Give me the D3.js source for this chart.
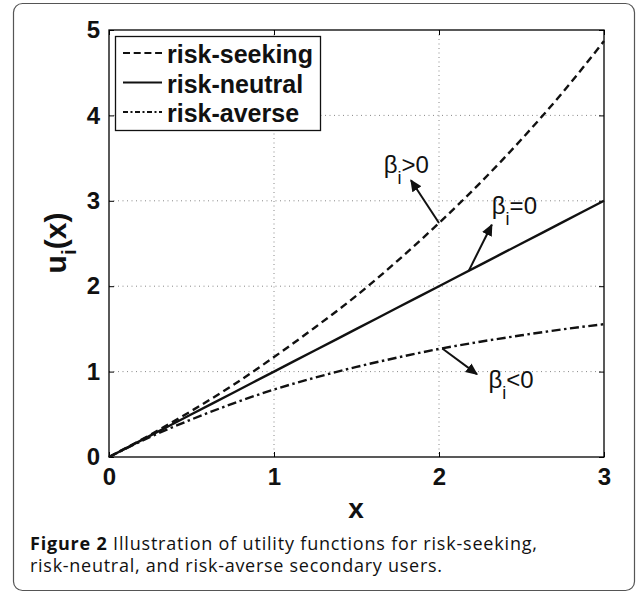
<!DOCTYPE html>
<html>
<head>
<meta charset="utf-8">
<script src="https://cdn.jsdelivr.net/npm/d3@7"></script>
<style>
  html, body { margin: 0; padding: 0; background: #fff; }
  svg { display: block; }
</style>
</head>
<body>
<svg id="fig" width="637" height="595"></svg>
<script>
// Utility curves u_i(x) sampled on x = 0 .. 3
const xValues = [0, 0.25, 0.5, 0.75, 1, 1.25, 1.5, 1.75, 2, 2.25, 2.5, 2.75, 3];
const riskSeeking = [0, 0.26, 0.54, 0.84, 1.17, 1.52, 1.89, 2.30, 2.74, 3.21, 3.72, 4.27, 4.87];
const riskNeutral = [0, 0.25, 0.5, 0.75, 1, 1.25, 1.5, 1.75, 2, 2.25, 2.5, 2.75, 3];
const riskAverse  = [0, 0.235, 0.44, 0.625, 0.79, 0.93, 1.055, 1.165, 1.265, 1.35, 1.425, 1.495, 1.555];

const seriesNames = ["risk-seeking", "risk-neutral", "risk-averse"];
const xTicks = [0, 1, 2, 3];
const yTicks = [0, 1, 2, 3, 4, 5];

// Callouts: arrow from a point on a curve to a label (data units)
const calloutLabels = ["β", "β", "β"];
const calloutRel = [">0", "=0", "<0"];
const calloutFrom = [[2.0, 2.74], [2.18, 2.18], [2.02, 1.27]];
const calloutTo = [[1.83, 3.24], [2.32, 2.72], [2.23, 0.97]];
const calloutText = [[1.665, 3.33], [2.32, 2.84], [2.30, 0.81]];

const svg = d3.select("#fig");

// Figure frame
svg.append("rect")
  .attr("x", 13.5).attr("y", 3.5)
  .attr("width", 621).attr("height", 587)
  .attr("rx", 9).attr("ry", 9)
  .attr("fill", "#fff").attr("stroke", "#555").attr("stroke-width", 1.2);

const L = 109, R = 604, T = 30, B = 457;
const x = d3.scaleLinear().domain([0, 3]).range([L, R]);
const y = d3.scaleLinear().domain([0, 5]).range([B, T]);

const tickFont = "'Liberation Sans', Arial, sans-serif";

// Grid
const grid = svg.append("g").attr("stroke", "#888").attr("stroke-width", 1)
  .attr("stroke-dasharray", "1,3.5");
grid.selectAll("line.gx").data(xTicks.slice(1, -1)).join("line")
  .attr("x1", d => x(d)).attr("x2", d => x(d)).attr("y1", T).attr("y2", B);
grid.selectAll("line.gy").data(yTicks.slice(1, -1)).join("line")
  .attr("y1", d => y(d)).attr("y2", d => y(d)).attr("x1", L).attr("x2", R);

// Axes with inward ticks
function styleAxis(g) {
  g.select(".domain").remove();
  g.selectAll(".tick line").attr("stroke", "#000").attr("stroke-width", 1);
  g.selectAll(".tick text").attr("fill", "#111")
    .style("font-family", tickFont).style("font-weight", "bold").style("font-size", "24px");
}
svg.append("g").attr("transform", `translate(0,${B})`)
  .call(d3.axisBottom(x).tickValues(xTicks).tickFormat(d3.format("d")).tickSizeInner(-5).tickSizeOuter(0).tickPadding(11))
  .call(styleAxis);
svg.append("g").attr("transform", `translate(${L},0)`)
  .call(d3.axisLeft(y).tickValues(yTicks).tickFormat(d3.format("d")).tickSizeInner(-5).tickSizeOuter(0).tickPadding(9))
  .call(styleAxis);
svg.append("g").attr("transform", `translate(0,${T})`)
  .call(d3.axisTop(x).tickValues(xTicks).tickFormat("").tickSizeInner(-5).tickSizeOuter(0))
  .call(styleAxis);
svg.append("g").attr("transform", `translate(${R},0)`)
  .call(d3.axisRight(y).tickValues(yTicks).tickFormat("").tickSizeInner(-5).tickSizeOuter(0))
  .call(styleAxis);

// Plot box
svg.append("rect").attr("x", L).attr("y", T).attr("width", R - L).attr("height", B - T)
  .attr("fill", "none").attr("stroke", "#000").attr("stroke-width", 1.3);

// Curves
const styles = [
  { dash: "7.5,4.5" },
  { dash: null },
  { dash: "9,3.5,2.5,3.5" }
];
const seriesData = [riskSeeking, riskNeutral, riskAverse];
const line = d3.line().x((d, i) => x(xValues[i])).y(d => y(d)).curve(d3.curveMonotoneX);
svg.append("g").selectAll("path").data(seriesData).join("path")
  .attr("d", d => line(d))
  .attr("fill", "none").attr("stroke", "#111").attr("stroke-width", 2.4)
  .attr("stroke-dasharray", (d, i) => styles[i].dash);

// Callout arrows
const defs = svg.append("defs");
defs.append("marker").attr("id", "head")
  .attr("viewBox", "0 0 10 10").attr("refX", 9).attr("refY", 5)
  .attr("markerWidth", 12).attr("markerHeight", 12).attr("markerUnits", "userSpaceOnUse")
  .attr("orient", "auto")
  .append("path").attr("d", "M0,0.5 L10,5 L0,9.5 Z").attr("fill", "#111");

const ann = svg.append("g");
calloutFrom.forEach((p, i) => {
  ann.append("line")
    .attr("x1", x(p[0])).attr("y1", y(p[1]))
    .attr("x2", x(calloutTo[i][0])).attr("y2", y(calloutTo[i][1]))
    .attr("stroke", "#111").attr("stroke-width", 2).attr("marker-end", "url(#head)");
  const t = ann.append("text")
    .attr("x", x(calloutText[i][0])).attr("y", y(calloutText[i][1]))
    .style("font-family", tickFont).style("font-size", "24px").attr("fill", "#111");
  t.append("tspan").text(calloutLabels[i]);
  t.append("tspan").attr("dy", 11).style("font-size", "18px").text("i");
  t.append("tspan").attr("dy", -11).text(calloutRel[i]);
});

// Legend
const lg = svg.append("g");
lg.append("rect").attr("x", 115.5).attr("y", 36.5).attr("width", 205).attr("height", 94)
  .attr("fill", "#fff").attr("stroke", "#111").attr("stroke-width", 1.3);
seriesNames.forEach((name, i) => {
  const base = 63 + i * 29.5;
  lg.append("line").attr("x1", 123).attr("x2", 162).attr("y1", base - 10).attr("y2", base - 10)
    .attr("stroke", "#111").attr("stroke-width", 2.2)
    .attr("stroke-dasharray", i === 0 ? "7,3.7" : (i === 2 ? "5,2.5,2,2.5" : null));
  lg.append("text").attr("x", 167).attr("y", base)
    .style("font-family", tickFont).style("font-weight", "bold").style("font-size", "25px")
    .attr("fill", "#111").text(name);
});

// Axis titles
svg.append("text").attr("x", 356).attr("y", 518).attr("text-anchor", "middle")
  .style("font-family", tickFont).style("font-weight", "bold").style("font-size", "28px")
  .attr("fill", "#111").text("x");
const yl = svg.append("text")
  .attr("transform", `translate(66,243) rotate(-90)`).attr("text-anchor", "middle")
  .style("font-family", tickFont).style("font-weight", "bold").style("font-size", "30px")
  .attr("fill", "#111");
yl.append("tspan").text("u");
yl.append("tspan").attr("dy", 10).style("font-size", "21px").text("i");
yl.append("tspan").attr("dy", -10).text("(x)");

// Caption, two lines
const capFont = "'Open Sans', 'Noto Sans', sans-serif";
const cap1 = svg.append("text").attr("x", 30).attr("y", 550)
  .attr("textLength", 507).attr("lengthAdjust", "spacing")
  .style("font-family", capFont).style("font-size", "18px").attr("fill", "#111");
cap1.append("tspan").style("font-weight", "bold").text("Figure 2");
cap1.append("tspan").text(" Illustration of utility functions for risk-seeking,");
svg.append("text").attr("x", 30).attr("y", 572)
  .attr("textLength", 412).attr("lengthAdjust", "spacing")
  .style("font-family", capFont).style("font-size", "18px").attr("fill", "#111")
  .text("risk-neutral, and risk-averse secondary users.");
</script>
</body>
</html>
